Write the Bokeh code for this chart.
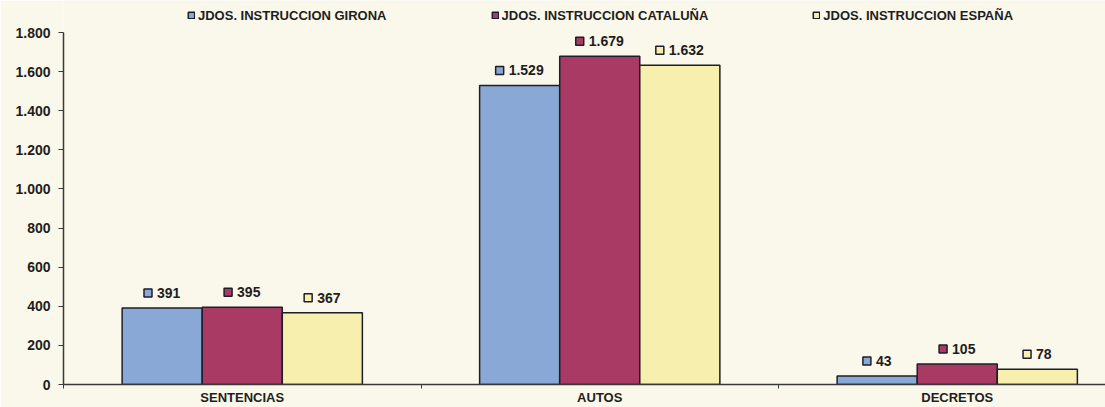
from bokeh.plotting import figure
from bokeh.models import ColumnDataSource, Range1d, FixedTicker, Legend, LegendItem
from bokeh.transform import dodge
from bokeh.core.properties import value
from bokeh.embed import file_html
from bokeh.resources import INLINE

# ---------------- data ----------------
categories = ["SENTENCIAS", "AUTOS", "DECRETOS"]
series_names = ["JDOS. INSTRUCCION GIRONA", "JDOS. INSTRUCCION CATALUÑA", "JDOS. INSTRUCCION ESPAÑA"]
girona = [391, 1529, 43]
cataluna = [395, 1679, 105]
espana = [367, 1632, 78]
y_ticks = [0, 200, 400, 600, 800, 1000, 1200, 1400, 1600, 1800]

# ---------------- style ----------------
BG = "#FAF7EB"
OUTLINE = "#1E1E2A"
AXIS = "#3A3A3A"
TEXT = "#1E1E1E"
colors = ["#8AA8D5", "#A83A63", "#F6EFAE"]
FONT = "Liberation Sans"
W, H = 1105, 407
LEFT, BOTTOM = 63, 23
AXIS_TOP_PX = 32            # pixel row of the top tick (1.800)
BAR_W = 0.224
offsets = [-0.224, 0.0, 0.224]
PX_PER_UNIT = 357.5
Y_MAX = 1800
frame_h = H - BOTTOM
px_per_y = (frame_h - AXIS_TOP_PX) / Y_MAX
Y_END = Y_MAX + AXIS_TOP_PX / px_per_y
X_END = (W - LEFT) / PX_PER_UNIT
LABEL_FS = 14
LABEL_GAP_PX = 15

def fmt(v):
    return f"{v:,}".replace(",", ".")

def text_w(s, size=LABEL_FS):
    return sum(0.556 if c.isdigit() else 0.278 for c in s) * size

xs = [i + 0.5 for i in range(len(categories))]
data = dict(x=xs)
series = [girona, cataluna, espana]
keys = ["girona", "cataluna", "espana"]
y_pad = LABEL_GAP_PX / px_per_y
for k, vals, off in zip(keys, series, offsets):
    labels = [fmt(v) for v in vals]
    data[k] = vals
    data[k + "_lbl"] = labels
    starts = [-(13 + text_w(s)) / 2 for s in labels]
    data[k + "_tdx"] = [s + 13 for s in starts]
    data[k + "_mx"] = [x + off + (s + 4) / PX_PER_UNIT for x, s in zip(xs, starts)]
src = ColumnDataSource(data)

p = figure(width=W, height=H, output_backend="svg", toolbar_location=None,
           x_range=Range1d(0, X_END), y_range=Range1d(0, Y_END),
           min_border_left=LEFT, min_border_top=0, min_border_bottom=BOTTOM,
           min_border_right=0, background_fill_color=BG, border_fill_color=BG,
           outline_line_color=None)
p.xgrid.visible = False
p.ygrid.visible = False

renderers = []
for k, color, off in zip(keys, colors, offsets):
    r = p.vbar(x=dodge("x", off), top=k, width=BAR_W, source=src,
               fill_color=color, line_color=OUTLINE, line_width=1.5)
    renderers.append(r)
    p.text(x=dodge("x", off), y=k, text=k + "_lbl", x_offset=k + "_tdx",
           y_offset=-LABEL_GAP_PX, source=src, text_align="left",
           text_baseline="middle", text_font=value(FONT),
           text_font_style="bold", text_font_size=f"{LABEL_FS}px",
           text_color=TEXT)
    p.scatter(x=k + "_mx", y=dodge(k, y_pad), source=src, marker="square",
              size=8, fill_color=color, line_color=OUTLINE, line_width=1.5)

# y axis
p.yaxis.ticker = FixedTicker(ticks=y_ticks)
p.yaxis.bounds = (0, Y_MAX)
p.yaxis.major_label_overrides = {v: fmt(v) for v in y_ticks}
p.yaxis.major_tick_out = 5
p.yaxis.major_tick_in = 0
p.yaxis.minor_tick_line_color = None
p.yaxis.axis_line_width = 1.5
p.yaxis.axis_line_color = AXIS
p.yaxis.major_tick_line_color = AXIS
p.yaxis.major_tick_line_width = 1.2
p.yaxis.major_label_standoff = 8
p.yaxis.major_label_text_font = FONT
p.yaxis.major_label_text_font_style = "bold"
p.yaxis.major_label_text_font_size = "14px"
p.yaxis.major_label_text_color = TEXT

# x axis
p.xaxis.ticker = FixedTicker(ticks=xs, minor_ticks=[0, 1, 2])
p.xaxis.major_label_overrides = {x: c for x, c in zip(xs, categories)}
p.xaxis.major_tick_out = 0
p.xaxis.major_tick_in = 0
p.xaxis.major_tick_line_color = None
p.xaxis.minor_tick_out = 4
p.xaxis.minor_tick_in = 0
p.xaxis.minor_tick_line_color = AXIS
p.xaxis.axis_line_width = 1.5
p.xaxis.axis_line_color = AXIS
p.xaxis.major_label_standoff = 1
p.xaxis.major_label_text_font = FONT
p.xaxis.major_label_text_font_style = "bold"
p.xaxis.major_label_text_font_size = "13px"
p.xaxis.major_label_text_color = TEXT

legend = Legend(
    items=[LegendItem(label=n, renderers=[r]) for n, r in zip(series_names, renderers)],
    orientation="horizontal", location=(124, frame_h - 22.5), spacing=104,
    glyph_width=8, glyph_height=8, label_standoff=3, padding=0, margin=0,
    label_height=13, background_fill_alpha=0, border_line_alpha=0,
    label_text_font=FONT, label_text_font_style="bold",
    label_text_font_size="13px", label_text_color=TEXT)
p.add_layout(legend)

open("out.html", "w").write(file_html(p, INLINE))
